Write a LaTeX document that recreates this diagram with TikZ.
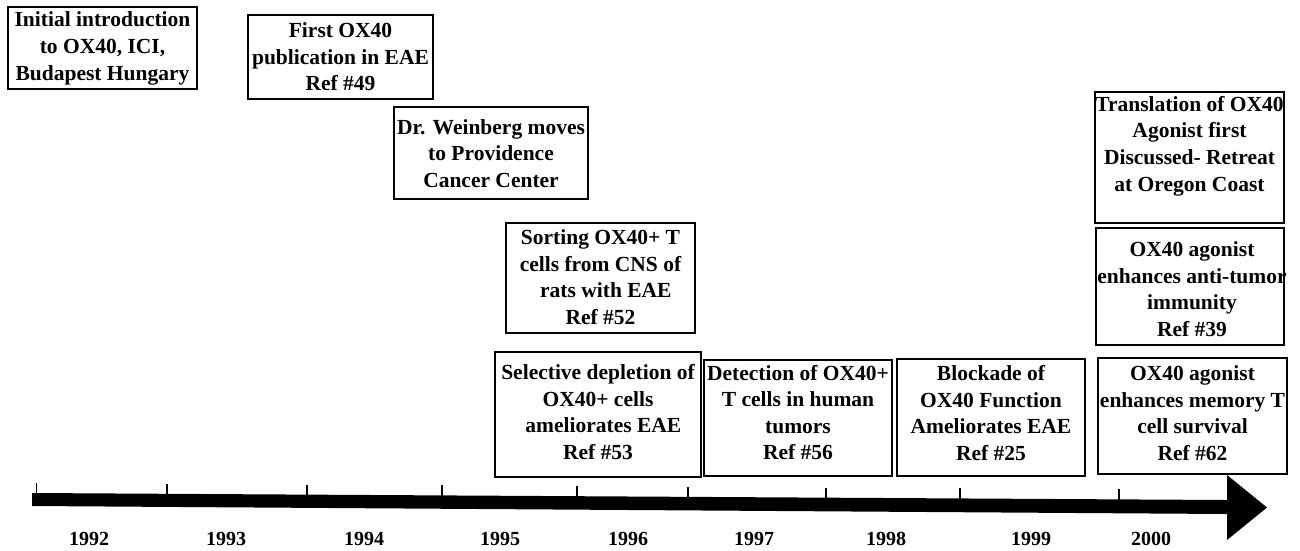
\documentclass[tikz,border=0pt]{standalone}
\usepackage{fontspec}
\setmainfont{Liberation Serif}
\begin{document}
\begin{tikzpicture}[x=1pt,y=-1pt,
  evbox/.style={draw=black, line width=1.8pt, rectangle, inner sep=0pt},
  evtext/.style={inner sep=0pt, align=center, font=\fontsize{21.5}{26.6}\selectfont\bfseries},
  yearlabel/.style={inner sep=0pt, font=\fontsize{20}{24}\selectfont\bfseries},
  tickmark/.style={line width=1.6pt, black}]
\path[use as bounding box] (0,0) rectangle (1300,550);

% event boxes
\node[evbox, minimum width=189pt, minimum height=82pt] (b1) at (102.5,48) {};
\node[evtext] (t1) at (102.5,48.5) {Initial introduction\\to OX40, ICI,\\Budapest Hungary};

\node[evbox, minimum width=185pt, minimum height=84pt] (b2) at (340.5,57) {};
\node[evtext] (t2) at (340.5,57) {First OX40\\publication in EAE\\Ref \#49};

\node[evbox, minimum width=194pt, minimum height=92pt] (b3) at (491,153) {};
\node[evtext] (t3) at (491,153.5) {Dr. Weinberg moves\\to Providence\\Cancer Center};

\node[evbox, minimum width=189pt, minimum height=110pt] (b4) at (600.5,278) {};
\node[evtext] (t4) at (600.5,277) {Sorting OX40+ T\\cells from CNS of\\\ \ rats with EAE\\Ref \#52};

\node[evbox, minimum width=206pt, minimum height=125pt] (b5) at (598,414.5) {};
\node[evtext] (t5) at (598,412) {Selective depletion of\\OX40+ cells\\\ \ ameliorates EAE\\Ref \#53};

\node[evbox, minimum width=188pt, minimum height=116pt] (b6) at (798,418) {};
\node[evtext] (t6) at (798,412.5) {Detection of OX40+\\T cells in human\\tumors\\Ref \#56};

\node[evbox, minimum width=188pt, minimum height=117pt] (b7) at (991,417.5) {};
\node[evtext] (t7) at (991,413) {Blockade of\\OX40 Function\\Ameliorates EAE\\Ref \#25};

\node[evbox, minimum width=189pt, minimum height=116pt] (b8) at (1192.5,416) {};
\node[evtext] (t8) at (1192.5,413) {OX40 agonist\\enhances memory T\\cell survival\\Ref \#62};

\node[evbox, minimum width=188pt, minimum height=117pt] (b9) at (1190,286.5) {};
\node[evtext] (t9) at (1192,289) {OX40 agonist\\enhances anti-tumor\\immunity\\Ref \#39};

\node[evbox, minimum width=189pt, minimum height=131pt] (b10) at (1189.5,157.5) {};
\node[evtext] (t10) at (1189.5,146) {Translation of OX40\\Agonist first\\Discussed- Retreat\\at Oregon Coast};

% timeline arrow
\coordinate (barstart) at (32,499.5);
\coordinate (arrowtip) at (1267,507.5);
\fill[black] (32,493) -- (1227,500) -- (1227,475) -- (arrowtip) -- (1227,540) -- (1227,514) -- (32,506) -- cycle;

% ticks
\foreach \x in {36.5,167,307,442,577,688,826,960,1119}
  \draw[tickmark] (\x,{493+0.005858*(\x-32)-10}) -- ++(0,11);

% years
\node[yearlabel] (y1992) at (89,538.5) {1992};
\node[yearlabel] (y1993) at (226,538.5) {1993};
\node[yearlabel] (y1994) at (364,538.5) {1994};
\node[yearlabel] (y1995) at (500,538.5) {1995};
\node[yearlabel] (y1996) at (628,538.5) {1996};
\node[yearlabel] (y1997) at (754,538.5) {1997};
\node[yearlabel] (y1998) at (886,538.5) {1998};
\node[yearlabel] (y1999) at (1031,538.5) {1999};
\node[yearlabel] (y2000) at (1151,538.5) {2000};
\end{tikzpicture}
\end{document}
